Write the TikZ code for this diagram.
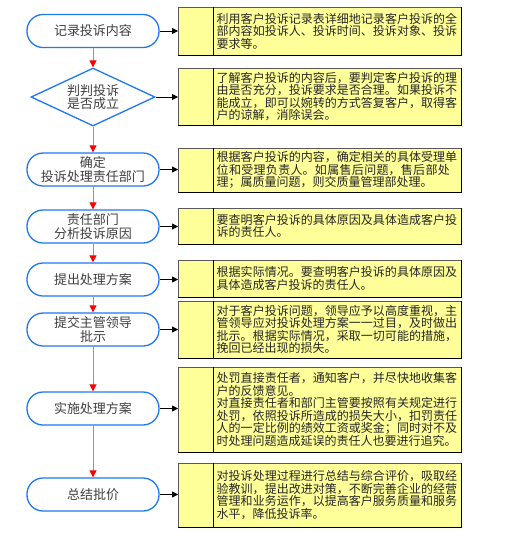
\documentclass[tikz,border=0pt]{standalone}
\usepackage{fontspec}
\setmainfont{Noto Sans CJK SC}
\usetikzlibrary{arrows.meta,shapes.geometric}
\XeTeXlinebreaklocale "zh"
\XeTeXlinebreakskip=0pt plus 1pt
\setlength\parindent{0pt}
\definecolor{nodeblue}{HTML}{1E78F0}
\definecolor{boxyellow}{HTML}{FFFF99}
\definecolor{redline}{HTML}{FF6A6A}
\definecolor{txtgray}{HTML}{404040}
\tikzset{
  stepnode/.style={draw=nodeblue, line width=1.3pt, fill=white, rectangle, rounded corners=16pt,
    minimum width=132pt, minimum height=33pt, inner sep=0pt, align=center,
    font=\fontsize{13}{14}\selectfont, text=txtgray},
  decnode/.style={draw=nodeblue, line width=1.3pt, fill=white, diamond, aspect=2.14,
    minimum width=124pt, minimum height=58pt, inner sep=0pt, align=center,
    font=\fontsize{13}{13}\selectfont, text=txtgray},
  notebox/.style={draw=black!65, line width=0.8pt, fill=boxyellow},
  notetext/.style={anchor=west, inner sep=0pt, text width=241pt,
    font=\fontsize{12}{12.5}\selectfont, text=black!85},
  redarrow/.style={draw=redline, line width=1pt, -{Triangle[length=7pt,width=7pt,color=red]}},
  blackarrow/.style={draw=black, line width=0.8pt, -{Triangle[length=6pt,width=6pt]}}
}
\begin{document}
\begin{tikzpicture}[x=1pt,y=-1pt]
\useasboundingbox (0,0) rectangle (511,542);
% left flow nodes
\node[stepnode] (n1) at (93,31) {记录投诉内容};
\node[decnode] (n2) at (93,97) {判判投诉\\是否成立};
\node[stepnode] (n3) at (93,169.5) {确定\\投诉处理责任部门};
\node[stepnode] (n4) at (93,226.5) {责任部门\\分析投诉原因};
\node[stepnode] (n5) at (93,279.5) {提出处理方案};
\node[stepnode] (n6) at (93,329.5) {提交主管领导\\批示};
\node[stepnode] (n7) at (93,408.5) {实施处理方案};
\node[stepnode] (n8) at (93,494.5) {总结批价};
% right note boxes
\newcommand{\notebox}[4]{%
  \path[notebox] (178,#2) rectangle (461,#3);
  \draw[black, line width=0.9pt] (178,#3) -- (461,#3) -- (461,#2);
  \draw[black, line width=0.9pt] (213,#2) -- (213,#3);
  \coordinate (#1w) at (178,{(#2+#3)/2});
  \node[notetext] (#1t) at (216.5,{(#2+#3)/2}) {#4};
}
\notebox{b1}{7}{55}{利用客户投诉记录表详细地记录客户投诉的全部内容如投诉人、投诉时间、投诉对象、投诉要求等。}
\notebox{b2}{68}{125}{了解客户投诉的内容后，要判定客户投诉的理由是否充分，投诉要求是否合理。如果投诉不能成立，即可以婉转的方式答复客户，取得客户的谅解，消除误会。}
\notebox{b3}{148}{192}{根据客户投诉的内容，确定相关的具体受理单\linebreak 位和受理负责人。如属售后问题，售后部处\linebreak 理；属质量问题，则交质量管理部处理。}
\notebox{b4}{208}{244}{要查明客户投诉的具体原因及具体造成客户投诉的责任人。}
\notebox{b5}{260}{297}{根据实际情况。要查明客户投诉的具体原因及具体造成客户投诉的责任人。}
\notebox{b6}{301}{358}{对于客户投诉问题，领导应予以高度重视，主管领导应对投诉处理方案一一过目，及时做出批示。根据实际情况，采取一切可能的措施，挽回已经出现的损失。}
\notebox{b7}{367}{452}{处罚直接责任者，通知客户，并尽快地收集客户的反馈意见。\par 对直接责任者和部门主管要按照有关规定进行处罚，依照投诉所造成的损失大小，扣罚责任人的一定比例的绩效工资或奖金；同时对不及时处理问题造成延误的责任人也要进行追究。}
\notebox{b8}{463}{527}{对投诉处理过程进行总结与综合评价，吸取经验教训，提出改进对策，不断完善企业的经营管理和业务运作，以提高客户服务质量和服务水平，降低投诉率。}
% red flow arrows
\draw[redarrow] (n1.south) -- (n2.north);
\draw[redarrow] (n2.south) -- (n3.north);
\draw[redarrow] (n3.south) -- (n4.north);
\draw[redarrow] (n4.south) -- (n5.north);
\draw[redarrow] (n5.south) -- (n6.north);
\draw[redarrow] (n6.south) -- (n7.north);
\draw[redarrow] (n7.south) -- (n8.north);
% black arrows to notes
\draw[blackarrow] (n1.east) -- (n1.east -| b1w);
\draw[blackarrow] (n2.east) -- (n2.east -| b2w);
\draw[blackarrow] (n3.east) -- (n3.east -| b3w);
\draw[blackarrow] (n4.east) -- (n4.east -| b4w);
\draw[blackarrow] (n5.east) -- (n5.east -| b5w);
\draw[blackarrow] (n6.east) -- (n6.east -| b6w);
\draw[blackarrow] (n7.east) -- (n7.east -| b7w);
\draw[blackarrow] (n8.east) -- (n8.east -| b8w);
\end{tikzpicture}
\end{document}
